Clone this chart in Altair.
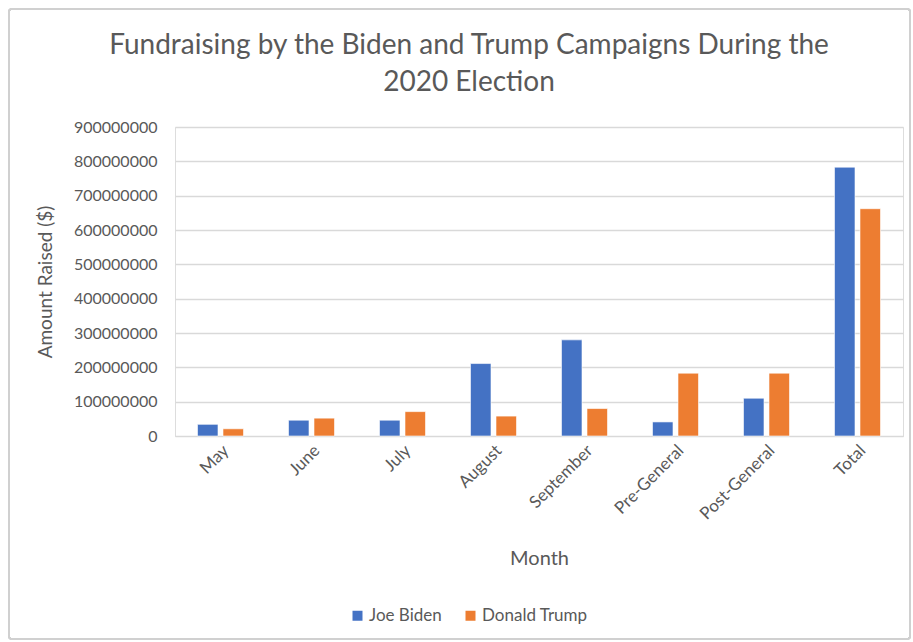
import altair as alt
import pandas as pd

months = ["May", "June", "July", "August", "September", "Pre-General", "Post-General", "Total"]
biden = [34e6, 46e6, 46e6, 211e6, 280e6, 41e6, 110e6, 783e6]
trump = [21e6, 52e6, 71e6, 58e6, 80e6, 183e6, 183e6, 662e6]
series = ["Joe Biden", "Donald Trump"]
colors = ["#4472C4", "#ED7D31"]

rows = []
for m, b, t in zip(months, biden, trump):
    rows.append({"Month": m, "Candidate": series[0], "Amount": b})
    rows.append({"Month": m, "Candidate": series[1], "Amount": t})
df = pd.DataFrame(rows)

FONT = "Lato"
TXT = "#595959"

bars = alt.Chart(df).mark_bar(stroke="white", strokeWidth=0.6).encode(
    x=alt.X("Month:N", sort=months,
            scale=alt.Scale(paddingInner=0, paddingOuter=0),
            axis=alt.Axis(title="Month", labelAngle=-45, labelFontSize=17, titleFontSize=20,
                          labelColor=TXT, titleColor=TXT, titleFontWeight="normal",
                          domain=True, domainColor="#D9D9D9", ticks=False,
                          labelPadding=6, titlePadding=26, labelFont=FONT, titleFont=FONT)),
    xOffset=alt.XOffset("Candidate:N", sort=series,
                        scale=alt.Scale(paddingInner=0.196, paddingOuter=0.882)),
    y=alt.Y("Amount:Q",
            scale=alt.Scale(domain=[0, 900e6], nice=False),
            axis=alt.Axis(title="Amount Raised ($)", values=[i * 100e6 for i in range(10)],
                          format="d", labelFontSize=16, titleFontSize=19, labelColor=TXT,
                          titleColor=TXT, titleFontWeight="normal", domain=False, ticks=False,
                          gridColor="#D9D9D9", gridWidth=1.3, labelPadding=18, titlePadding=18,
                          labelFont=FONT, titleFont=FONT)),
    color=alt.Color("Candidate:N", sort=series,
                    scale=alt.Scale(domain=series, range=colors),
                    legend=alt.Legend(title=None, orient="none", direction="horizontal",
                                      legendX=174, legendY=480, symbolType="square",
                                      symbolSize=100, symbolStrokeWidth=0,
                                      labelFontSize=17, labelColor=TXT, labelFont=FONT,
                                      columnPadding=20, labelOffset=3)),
)

frame = alt.Chart(df).mark_rect(fill=None, stroke="#D0D0D0", strokeWidth=1.5,
                                cornerRadius=3).encode(
    x=alt.value(-166), x2=alt.value(735), y=alt.value(-118), y2=alt.value(512)
)

chart = alt.layer(frame, bars).properties(
    width=728, height=309,
    title=alt.TitleParams(["Fundraising by the Biden and Trump Campaigns During the", "2020 Election"],
                          fontSize=28, font=FONT, color=TXT, fontWeight="normal",
                          anchor="middle", dx=-70, offset=-89, lineHeight=37),
    padding={"left": 175, "top": 127, "right": 10, "bottom": 206},
    autosize=alt.AutoSizeParams(type="none"),
).configure_view(stroke=None).configure(background="white")

chart.save("out.html", embed_options={"renderer": "svg", "actions": False})
